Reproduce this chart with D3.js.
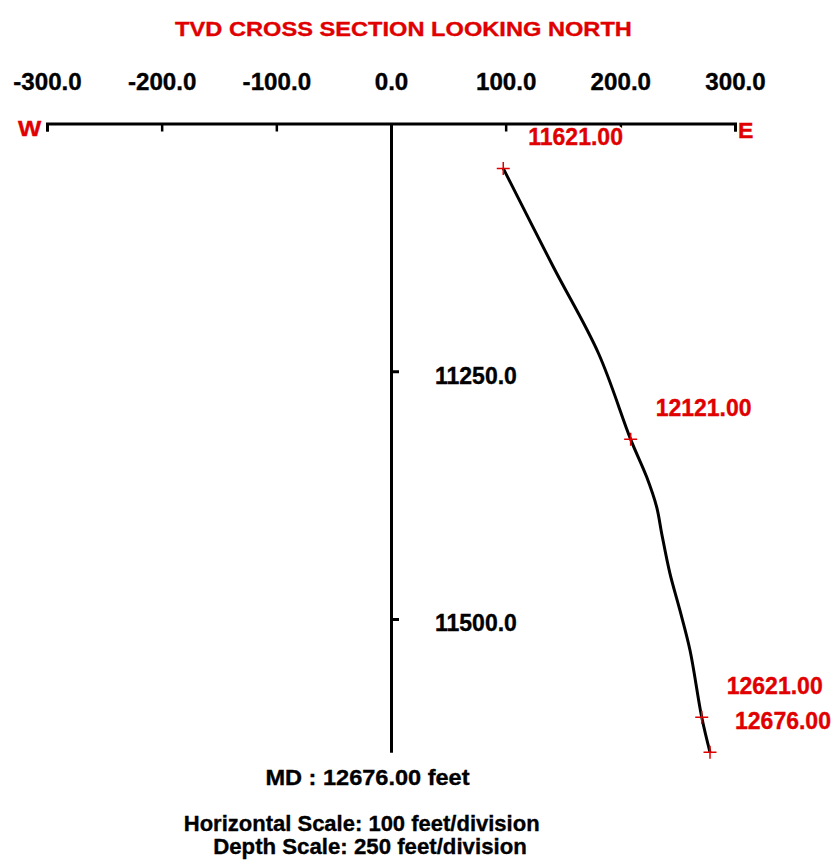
<!DOCTYPE html>
<html>
<head>
<meta charset="utf-8">
<script src="https://cdn.jsdelivr.net/npm/d3@7"></script>
<style>
  html, body { margin: 0; padding: 0; background: #fff; }
  svg { display: block; font-family: "Liberation Sans", Arial, sans-serif; font-weight: bold; }
</style>
</head>
<body>
<svg id="chart" width="837" height="866"></svg>
<script>
// Horizontal (east-west) offset ticks, feet
const xTicks = [-300, -200, -100, 0, 100, 200, 300];
// True vertical depth ticks, feet
const depthTicks = [11250, 11500];
const depthTop = 11000;

// Survey stations: measured depth, east offset, TVD
const stationMD   = [11621, 12121, 12621, 12676];
const stationEast = [97.9, 209.0, 271.0, 278.2];
const stationTVD  = [11045.3, 11318.7, 11599.2, 11634.5];

// Well path trace between stations
const pathEast = [97.9, 141.5, 181.0, 209.0, 223.0, 231.7, 236.1, 243.3, 252.0, 260.8, 271.0, 278.2];
const pathTVD  = [11045.3, 11144.6, 11232.1, 11318.7, 11356.8, 11387.1, 11413.9, 11454.3, 11491.4, 11531.8, 11599.2, 11634.5];

const RED = "#e00000";
const svg = d3.select("#chart");
const fmt = d3.formatLocale({ decimal: ".", thousands: ",", grouping: [3], currency: ["", ""], minus: "-" });

const x = d3.scaleLinear().domain([xTicks[0], xTicks[xTicks.length - 1]]).range([47, 735]);
const y = d3.scaleLinear().domain([depthTop, depthTicks[1]]).range([123.5, 619]);

// widen text horizontally by factor k, with a light outline for weight
function stretch(sel, k) {
  sel.each(function () {
    const t = d3.select(this);
    const w = this.getComputedTextLength();
    t.attr("textLength", w * k).attr("lengthAdjust", "spacingAndGlyphs")
     .attr("stroke", t.attr("fill") || "#000").attr("stroke-width", 0.35);
  });
}

// Title
svg.append("text")
  .attr("x", 403.5).attr("y", 36)
  .attr("text-anchor", "middle")
  .attr("fill", RED).attr("font-size", 21)
  .text("TVD CROSS SECTION LOOKING NORTH")
  .call(stretch, 1.125);

// Top axis line with downward ticks and end hooks
const topAxis = svg.append("g")
  .attr("transform", `translate(0,${y(depthTop)})`)
  .call(d3.axisBottom(x).tickValues(xTicks).tickSize(8).tickSizeOuter(8).tickFormat(""));
topAxis.select(".domain").attr("stroke", "#000").attr("stroke-width", 3).attr("fill", "none");
topAxis.selectAll(".tick line").attr("stroke", "#000").attr("stroke-width", 2.5);

// Top axis labels
const topLabels = svg.append("g")
  .attr("transform", `translate(0,89.5)`)
  .call(d3.axisTop(x).tickValues(xTicks).tickSize(0).tickPadding(0).tickFormat(fmt.format(".1f")));
topLabels.select(".domain").remove();
topLabels.selectAll("text")
  .attr("font-family", null).attr("font-size", 23).attr("fill", "#000").attr("dy", 0)
  .call(stretch, 1.05);

// W / E direction markers
svg.append("text").attr("x", 18).attr("y", 135.5).attr("fill", RED).attr("font-size", 22)
  .text("W").call(stretch, 1.12);
svg.append("text").attr("x", 738).attr("y", 138).attr("fill", RED).attr("font-size", 22)
  .text("E").call(stretch, 1.05);

// Vertical (depth) axis along zero offset
const tvdEnd = stationTVD[stationTVD.length - 1];
const yAxisScale = y.copy().domain([depthTop, tvdEnd]).range([y(depthTop), y(tvdEnd)]);
const depthAxis = svg.append("g")
  .attr("transform", `translate(${x(0)},0)`)
  .call(d3.axisRight(yAxisScale).tickValues(depthTicks).tickSize(8).tickSizeOuter(0)
    .tickPadding(36).tickFormat(fmt.format(".1f")));
depthAxis.select(".domain").attr("stroke", "#000").attr("stroke-width", 3);
depthAxis.selectAll(".tick line").attr("stroke", "#000").attr("stroke-width", 3);
depthAxis.selectAll("text")
  .attr("font-family", null).attr("font-size", 23).attr("fill", "#000").attr("dy", "0.52em")
  .call(stretch, 1.0);

// Well path
const pathPts = pathEast.map((e, i) => [e, pathTVD[i]]);
svg.append("path")
  .datum(pathPts)
  .attr("fill", "none").attr("stroke", "#000").attr("stroke-width", 3)
  .attr("stroke-linejoin", "round")
  .attr("d", d3.line().x(d => x(d[0])).y(d => y(d[1])).curve(d3.curveCatmullRom.alpha(0.5)));

// Station markers and labels
const stations = stationMD.map((md, i) => ({ md, east: stationEast[i], tvd: stationTVD[i] }));
const st = svg.append("g").selectAll("g").data(stations).join("g")
  .attr("transform", d => `translate(${x(d.east)},${y(d.tvd)})`);
st.append("path")
  .attr("d", "M-6.5,0H6.5M0,-6.5V6.5")
  .attr("stroke", RED).attr("stroke-width", 1.5).attr("fill", "none");
st.append("text")
  .attr("x", 25).attr("y", -23)
  .attr("fill", RED).attr("font-size", 23)
  .text(d => fmt.format(".2f")(d.md))
  .call(stretch, 1.0)
  .clone(true).lower()
  .attr("stroke", "#fff").attr("stroke-width", 4);

// Footer notes
const lastMD = stationMD[stationMD.length - 1];
svg.append("text").attr("x", 367.5).attr("y", 785).attr("text-anchor", "middle")
  .attr("font-size", 22).attr("fill", "#000")
  .text(`MD : ${fmt.format(".2f")(lastMD)} feet`).call(stretch, 1.07);
svg.append("text").attr("x", 361.7).attr("y", 831).attr("text-anchor", "middle")
  .attr("font-size", 22).attr("fill", "#000")
  .text(`Horizontal Scale: ${xTicks[1] - xTicks[0]} feet/division`).call(stretch, 1.0);
svg.append("text").attr("x", 370).attr("y", 854).attr("text-anchor", "middle")
  .attr("font-size", 22).attr("fill", "#000")
  .text(`Depth Scale: ${depthTicks[1] - depthTicks[0]} feet/division`).call(stretch, 1.01);
</script>
</body>
</html>
